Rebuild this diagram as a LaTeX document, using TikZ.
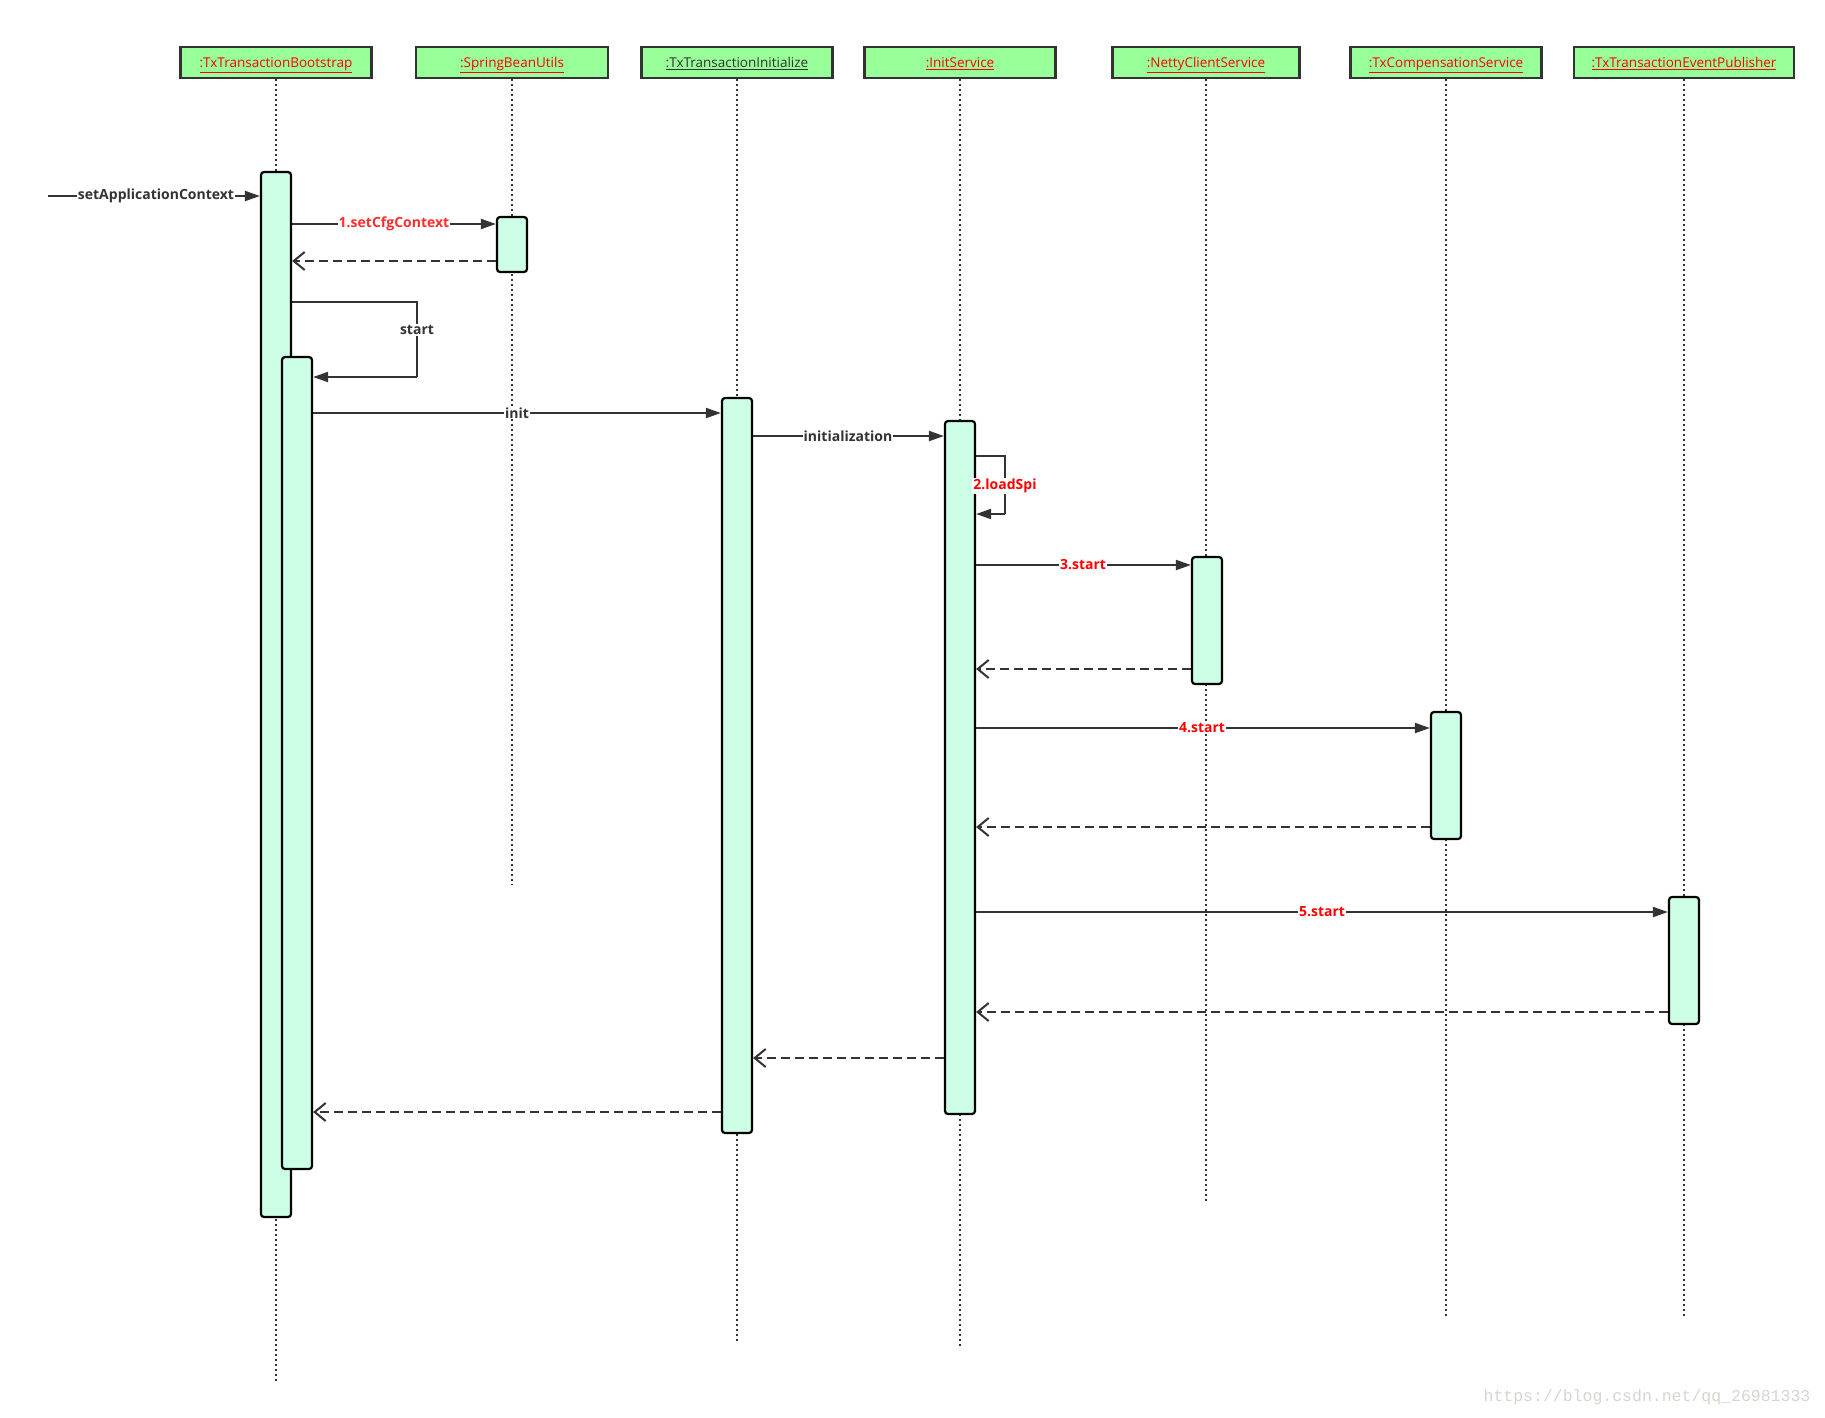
\documentclass[tikz,border=0pt]{standalone}
\usepackage{fontspec}
\setmainfont{Open Sans}
\newfontfamily\wmfont{Liberation Mono}
\usetikzlibrary{arrows.meta}
\definecolor{hdrfill}{RGB}{153,255,153}
\definecolor{actfill}{RGB}{204,255,229}
\definecolor{ink}{RGB}{51,51,51}
\definecolor{lblred}{RGB}{255,0,0}
\definecolor{lblred2}{RGB}{255,45,45}
\definecolor{wmgray}{RGB}{214,214,208}
\begin{document}
\begin{tikzpicture}[x=1pt,y=-1pt,
  hdr/.style={draw=ink, line width=2.5pt, fill=hdrfill, minimum height=31pt, inner sep=0pt, text height=13pt, text depth=3pt, font=\fontsize{13.5}{15}\selectfont},
  act/.style={draw=black, line width=2.2pt, fill=actfill, rounded corners=3pt, minimum width=30pt, inner sep=0pt},
  life/.style={draw=ink, line width=2pt, dash pattern=on 2pt off 3pt},
  msg/.style={draw=ink, line width=2pt, -{Triangle[length=15pt,width=10pt]}},
  ret/.style={draw=ink, line width=2pt, dash pattern=on 9pt off 5pt, -{Straight Barb[length=11pt,width=18pt]}},
  loopline/.style={draw=ink, line width=2pt},
  lbl/.style={fill=white, inner xsep=1pt, inner ysep=1pt, font=\bfseries\fontsize{14}{16}\selectfont, text=ink},
  rlbl/.style={lbl, text=lblred}
]
\useasboundingbox[fill=white] (0,0) rectangle (1825,1417);

% headers
\node[hdr, minimum width=191pt, text=lblred] (H1) at (276,62.5) {\underline{:TxTransactionBootstrap}};
\node[hdr, minimum width=192pt, text=lblred] (H2) at (512,62.5) {\underline{:SpringBeanUtils}};
\node[hdr, minimum width=191pt, text=ink] (H3) at (737,62.5) {\underline{:TxTransactionInitialize}};
\node[hdr, minimum width=191pt, text=lblred] (H4) at (960,62.5) {\underline{:InitService}};
\node[hdr, minimum width=187pt, text=lblred] (H5) at (1206,62.5) {\underline{:NettyClientService}};
\node[hdr, minimum width=191pt, text=lblred] (H6) at (1446,62.5) {\underline{:TxCompensationService}};
\node[hdr, minimum width=220pt, text=lblred] (H7) at (1684,62.5) {\underline{:TxTransactionEventPublisher}};

% lifeline ends
\coordinate (E1) at (276,1384);
\coordinate (E2) at (512,885);
\coordinate (E3) at (737,1343);
\coordinate (E4) at (960,1349);
\coordinate (E5) at (1206,1204);
\coordinate (E6) at (1446,1319);
\coordinate (E7) at (1684,1319);
\foreach \i in {1,...,7} { \draw[life] (H\i.south) -- (E\i); }

% activations
\node[act, minimum height=1045pt] (A1) at (276,694.5) {};
\node[act, minimum height=812pt] (A1b) at (297,763) {};
\node[act, minimum height=55pt] (A2) at (512,244.5) {};
\node[act, minimum height=735pt] (A3) at (737,765.5) {};
\node[act, minimum height=693pt] (A4) at (960,767.5) {};
\node[act, minimum height=127pt] (A5) at (1207,620.5) {};
\node[act, minimum height=127pt] (A6) at (1446,775.5) {};
\node[act, minimum height=127pt] (A7) at (1684,960.5) {};

% messages
\coordinate (S0) at (48,196);
\draw[msg] (S0) -- (A1.west |- 0,196);
\node[lbl] (m0) at (156,196) {setApplicationContext};

\draw[msg] (A1.east |- 0,224) -- (A2.west |- 0,224);
\node[rlbl, text=lblred2] (m1) at (394,224) {1.setCfgContext};
\draw[ret] (A2.west |- 0,261) -- (A1.east |- 0,261);

\coordinate (LP1a) at (417,302);
\coordinate (LP1b) at (417,377);
\draw[loopline] (A1.east |- 0,302) -- (LP1a) -- (LP1b);
\draw[msg] (LP1b) -- (A1b.east |- 0,377);
\node[lbl] (m2) at (417,330) {start};

\draw[msg] (A1b.east |- 0,413) -- (A3.west |- 0,413);
\node[lbl] (m3) at (517,413) {init};

\draw[msg] (A3.east |- 0,436) -- (A4.west |- 0,436);
\node[lbl] (m4) at (848,436) {initialization};

\coordinate (LP2a) at (1005,456);
\coordinate (LP2b) at (1005,514);
\draw[loopline] (A4.east |- 0,456) -- (LP2a) -- (LP2b);
\draw[msg] (LP2b) -- (A4.east |- 0,514);
\node[rlbl] (m5) at (1005,486) {2.loadSpi};

\draw[msg] (A4.east |- 0,565) -- (A5.west |- 0,565);
\node[rlbl] (m6) at (1083,565) {3.start};
\draw[ret] (A5.west |- 0,669) -- (A4.east |- 0,669);

\draw[msg] (A4.east |- 0,728) -- (A6.west |- 0,728);
\node[rlbl] (m7) at (1202,728) {4.start};
\draw[ret] (A6.west |- 0,827) -- (A4.east |- 0,827);

\draw[msg] (A4.east |- 0,912) -- (A7.west |- 0,912);
\node[rlbl] (m8) at (1322,912) {5.start};
\draw[ret] (A7.west |- 0,1012) -- (A4.east |- 0,1012);

\draw[ret] (A4.west |- 0,1058) -- (A3.east |- 0,1058);
\draw[ret] (A3.west |- 0,1112) -- (A1b.east |- 0,1112);

% watermark
\node[text=wmgray, font=\wmfont\fontsize{16.5}{18}\selectfont, inner sep=0pt] (wm) at (1647,1397) {https://blog.csdn.net/qq\_26981333};
\end{tikzpicture}
\end{document}
